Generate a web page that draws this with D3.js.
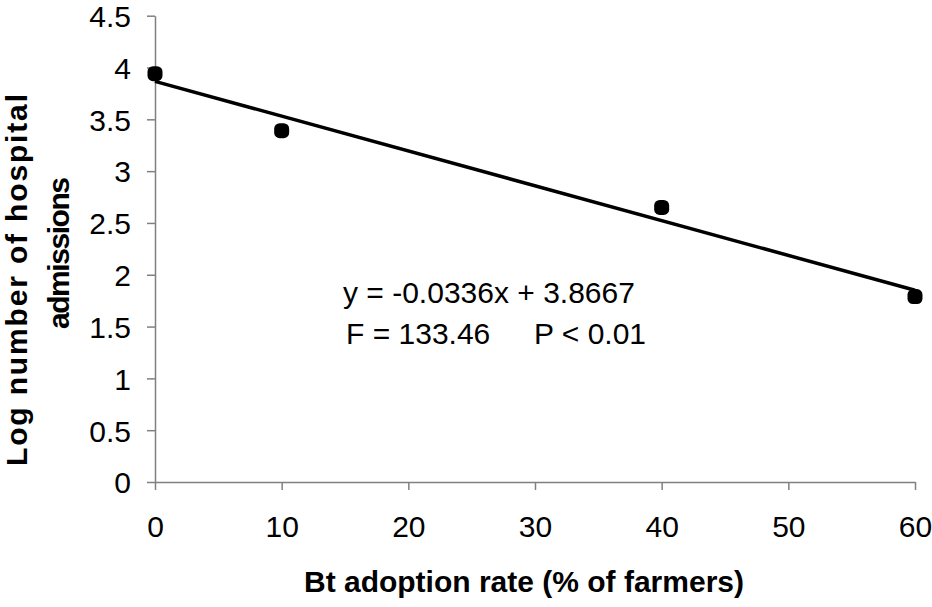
<html>
<script src="https://d3js.org/d3.v7.min.js"></script>
<meta charset="UTF-8">
<style>
    body { margin: 0; background: #fff; }
    text { font-family: "Liberation Sans", Arial, sans-serif; }
</style>
<body>
    <svg width="932" height="607" id="canvas"></svg>
</body>
<script>
    // adoption rate (% of farmers) and log hospital admissions
    var adoption = [0, 10, 40, 60];
    var logAdmissions = [3.94, 3.39, 2.65, 1.79];

    // fitted trend line end points
    var trendX = [0, 60];
    var trendY = [3.8667, 1.8507];

    var xTicks = [0, 10, 20, 30, 40, 50, 60];
    var yTicks = [0, 0.5, 1, 1.5, 2, 2.5, 3, 3.5, 4, 4.5];

    var equation = "y = -0.0336x + 3.8667";
    var statF = "F = 133.46";
    var statP = "P < 0.01";

    var svg = d3.select("#canvas");

    var x = d3.scaleLinear().domain([0, 60]).range([155, 915]);
    var y = d3.scaleLinear().domain([0, 4.5]).range([482, 15.7]);

    var xAxis = svg.append("g")
        .attr("transform", "translate(0," + y(0) + ")")
        .call(d3.axisBottom(x).tickValues(xTicks).tickSizeInner(8).tickSizeOuter(0).tickPadding(26))
    var yAxis = svg.append("g")
        .attr("transform", "translate(" + x(0) + ",0)")
        .call(d3.axisLeft(y).tickValues(yTicks).tickSizeInner(8).tickSizeOuter(0).tickPadding(16)
            .tickFormat(function (d) { return String(d); }))

    svg.selectAll(".domain, .tick line").attr("stroke", "#808080").attr("stroke-width", 1.5);
    svg.selectAll(".tick text")
        .attr("fill", "#000")
        .style("font-family", "'Liberation Sans', Arial, sans-serif")
        .style("font-size", "30px");
    yAxis.selectAll(".tick text").attr("dy", "0.36em");

    // trend line
    var line = d3.line()
        .x(function (d) { return x(d[0]); })
        .y(function (d) { return y(d[1]); });
    svg.append("path")
        .datum(d3.zip(trendX, trendY))
        .attr("d", line)
        .attr("fill", "none")
        .attr("stroke", "#000")
        .attr("stroke-width", 3.5);

    // data points
    svg.selectAll(".pt")
        .data(d3.zip(adoption, logAdmissions))
        .enter()
        .append("rect")
        .attr("class", "pt")
        .attr("x", function (d) { return x(d[0]) - 7.5; })
        .attr("y", function (d) { return y(d[1]) - 7.5; })
        .attr("width", 15)
        .attr("height", 15)
        .attr("rx", 5.5)
        .attr("fill", "#000");

    // regression text
    svg.append("text").attr("x", 343).attr("y", 303)
        .style("font-size", "30px").text(equation);
    svg.append("text").attr("x", 346).attr("y", 344)
        .style("font-size", "30px").text(statF);
    svg.append("text").attr("x", 534).attr("y", 344)
        .style("font-size", "30px").text(statP);

    // axis titles
    svg.append("text")
        .attr("x", 524).attr("y", 592)
        .attr("text-anchor", "middle")
        .style("font-size", "30px").style("font-weight", "bold")
        .text("Bt adoption rate (% of farmers)");

    svg.append("text")
        .attr("transform", "translate(27,280) rotate(-90)")
        .attr("text-anchor", "middle")
        .attr("textLength", 372).attr("lengthAdjust", "spacing")
        .style("font-size", "30px").style("font-weight", "bold")
        .text("Log number of hospital");
    svg.append("text")
        .attr("transform", "translate(69,253) rotate(-90)")
        .attr("text-anchor", "middle")
        .attr("textLength", 152).attr("lengthAdjust", "spacing")
        .style("font-size", "30px").style("font-weight", "bold")
        .text("admissions");
</script>
</html>
